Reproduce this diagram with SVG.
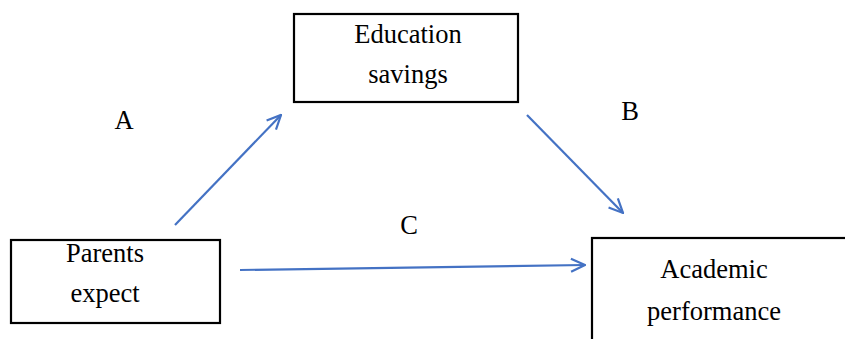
<svg xmlns="http://www.w3.org/2000/svg" width="845" height="339" viewBox="0 0 845 339">
<defs>
<marker id="ah" viewBox="0 0 16 16" refX="15" refY="8" markerWidth="16" markerHeight="16" markerUnits="userSpaceOnUse" orient="auto">
<path d="M1,1.5 L15,8 L1,14.5" fill="none" stroke="#4472C4" stroke-width="2.2"/>
</marker>
</defs>
<style>
.box{fill:#fff;stroke:#000;stroke-width:2.2}
.t{font-family:"Liberation Serif","Times New Roman",serif;font-size:26.5px;fill:#000;text-anchor:middle}
.c{stroke:#4472C4;stroke-width:2.2;fill:none;marker-end:url(#ah)}
</style>
<rect width="845" height="339" fill="#fff"/>
<g id="edu">
<rect class="box" x="294" y="14" width="224" height="88"/>
<text class="t" x="408" y="43">Education</text>
<text class="t" x="408" y="83">savings</text>
</g>
<g id="parents">
<rect class="box" x="11" y="240" width="209" height="83"/>
<text class="t" x="105" y="262">Parents</text>
<text class="t" x="105" y="302">expect</text>
</g>
<g id="academic">
<rect class="box" x="592" y="238" width="300" height="130"/>
<text class="t" x="714" y="278">Academic</text>
<text class="t" x="714" y="320">performance</text>
</g>
<g id="connectors">
<line class="c" x1="175" y1="225" x2="281" y2="115"/>
<line class="c" x1="527" y1="115" x2="623" y2="213"/>
<line class="c" x1="240" y1="270" x2="585" y2="265"/>
</g>
<g id="labels">
<text class="t" x="124" y="129">A</text>
<text class="t" x="630" y="120">B</text>
<text class="t" x="409" y="234">C</text>
</g>
</svg>
